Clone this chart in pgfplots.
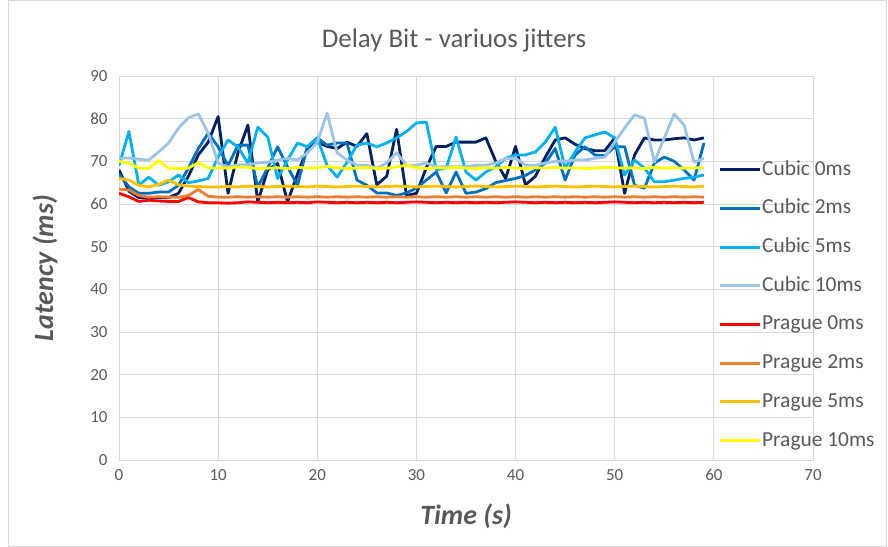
\documentclass[border=0pt]{standalone}
\usepackage{fontspec}
\setmainfont{Carlito}
\usepackage{pgfplots}
\usepackage{pgfplotstable}
\pgfplotsset{compat=1.18}
\definecolor{cA}{HTML}{002060}
\definecolor{cB}{HTML}{0070C0}
\definecolor{cC}{HTML}{00B0F0}
\definecolor{cD}{HTML}{9DC3E6}
\definecolor{pA}{HTML}{FF0000}
\definecolor{pB}{HTML}{ED7D31}
\definecolor{pC}{HTML}{FFC000}
\definecolor{pD}{HTML}{FFFF00}
\definecolor{txt}{HTML}{595959}
\definecolor{gridc}{HTML}{D9D9D9}
\pgfplotstableread{
t c0 c2 c5 c10 p0 p2 p5 p10
0 68 67 69 70.7 62.5 63.5 66.0 70.0
1 63 64 77 70.8 61.7 63.3 65.6 69.6
2 61.5 62.5 64.4 70.5 60.6 62.0 64.4 68.4
3 61.5 62.5 66.3 70.3 60.9 61.6 64.0 68.3
4 61.5 62.8 64.4 72.2 60.7 61.7 64.6 70.2
5 61.5 62.8 65.2 74.3 60.6 61.6 65.6 68.4
6 62.5 64.4 66.8 77.8 60.6 61.6 64.5 68.3
7 66.5 68.4 65.0 80.2 61.5 62.0 64.2 68.4
8 71.5 73.0 65.4 81.1 60.5 63.4 64.1 69.7
9 74.5 76.6 66.0 76.6 60.3 61.8 64.0 68.4
10 80.5 73.4 71.0 69.6 60.3 61.6 64.0 68.5
11 62.5 69.0 75.0 68.7 60.2 61.6 64.1 68.4
12 72.0 73.8 73.4 69.2 60.3 61.7 64.0 68.7
13 78.5 73.8 69.6 69.2 60.5 61.6 64.2 68.6
14 60.5 64.0 78.0 69.6 60.4 61.7 64.1 68.3
15 68.0 68.5 75.7 69.8 60.3 61.6 64.0 68.4
16 69.5 73.4 66.0 70.3 60.4 61.7 64.1 68.5
17 60.5 68.7 70.3 70.7 60.3 61.6 64.2 68.3
18 67.0 64.4 74.3 70.3 60.4 61.7 64.1 68.6
19 73.0 73.4 73.4 72.0 60.3 61.6 64.0 68.4
20 74.5 75.5 75.5 74.5 60.5 61.7 64.2 68.5
21 73.5 73.8 69.0 81.3 60.4 61.6 64.1 68.8
22 73.0 74.3 66.3 72.0 60.3 61.7 64.0 68.5
23 74.5 74.3 69.8 70.3 60.4 61.6 64.1 68.3
24 73.5 65.6 73.8 69.1 60.3 61.7 64.2 68.4
25 76.5 64.4 74.3 69.1 60.4 61.6 64.1 68.6
26 64.5 62.6 73.4 68.4 60.3 61.7 64.0 68.3
27 66.5 62.6 74.3 69.6 60.4 61.6 64.1 68.4
28 77.5 62.0 75.5 72.0 60.3 61.7 64.2 68.7
29 62.0 62.6 77.0 69.1 60.4 61.6 64.1 69.1
30 62.5 63.7 79.0 69.1 60.5 61.7 64.0 68.5
31 68.5 65.6 79.2 69.6 60.4 61.6 64.1 68.3
32 73.5 67.5 68.0 68.7 60.3 61.7 64.2 68.5
33 73.5 62.6 68.4 68.7 60.4 61.6 64.1 68.4
34 74.5 67.5 75.7 68.7 60.3 61.7 64.0 68.6
35 74.5 62.5 67.5 68.7 60.4 61.6 64.1 68.4
36 74.5 62.8 65.6 69.1 60.3 61.7 64.2 68.3
37 75.5 63.6 67.5 69.1 60.4 61.6 64.1 68.5
38 70.0 65.0 68.7 69.6 60.3 61.7 64.0 68.4
39 66.0 65.5 70.7 70.7 60.4 61.6 64.1 68.6
40 73.5 66.0 71.5 70.7 60.5 61.7 64.2 68.4
41 64.5 66.7 71.5 69.1 60.4 61.6 64.1 68.3
42 66.5 68.0 72.2 69.1 60.3 61.7 64.0 68.5
43 71.0 69.6 74.5 69.6 60.4 61.6 64.1 68.4
44 75.0 73.0 78.0 70.0 60.3 61.7 64.2 68.6
45 75.5 65.6 68.4 70.0 60.4 61.6 64.1 68.4
46 74.0 71.5 72.2 70.3 60.3 61.7 64.0 68.5
47 73.0 73.4 75.5 70.3 60.4 61.6 64.1 68.3
48 72.5 71.5 76.2 70.7 60.3 61.7 64.2 68.4
49 72.5 71.3 76.9 71.0 60.4 61.6 64.1 68.6
50 75.5 73.4 75.5 74.5 60.5 61.7 64.0 68.5
51 62.5 73.4 66.8 77.8 60.4 61.6 64.1 68.4
52 71.5 64.4 70.3 80.9 60.3 61.7 64.2 68.5
53 75.5 63.7 68.4 80.1 60.4 61.6 64.1 68.3
54 75.0 69.6 65.2 69.8 60.3 61.7 64.0 68.6
55 75.0 71.0 65.2 75.5 60.4 61.6 64.1 68.4
56 75.3 70.0 65.6 81.1 60.3 61.7 64.2 68.5
57 75.5 68.0 66.0 78.5 60.4 61.6 64.1 68.4
58 75.0 65.6 66.3 69.8 60.3 61.7 64.0 68.5
59 75.5 74.3 66.8 70.7 60.4 61.6 64.2 68.5
}\data
\begin{document}
\begin{tikzpicture}
\useasboundingbox (0bp,0bp) rectangle (888bp,547bp);
\draw[gridc, line width=0.8bp] (8.5bp,0.5bp) rectangle (886.5bp,546.5bp);
\node[text=txt, font=\fontsize{27}{32}\selectfont] at (454bp,507bp) {Delay Bit - variuos jitters};
\begin{axis}[
  at={(119bp,87bp)}, anchor=south west,
  scale only axis, width=694bp, height=384bp,
  xmin=0, xmax=70, ymin=0, ymax=90,
  xtick={0,10,...,70}, ytick={0,10,...,90},
  grid=major,
  major grid style={gridc, line width=0.8bp},
  axis line style={gridc, line width=0.8bp},
  major tick length=0pt,
  tick label style={text=txt, font=\fontsize{17}{20}\selectfont},
  xticklabel style={yshift=-6bp},
  yticklabel style={xshift=-8bp},
  /pgf/number format/assume math mode=true,
  xlabel={Time (s)}, ylabel={Latency (ms)},
  label style={text=txt, font=\fontsize{28}{33}\selectfont\bfseries\itshape},
  xlabel style={at={(axis description cs:0.5,-0.1458)}, anchor=center},
  ylabel style={at={(axis description cs:-0.1066,0.5)}, anchor=center},
  legend style={at={(axis description cs:0.8630,0.7839)}, anchor=north west,
    draw=none, fill=none, inner sep=0pt, row sep=17.7bp,
    font=\fontsize{21.5}{24}\selectfont, text=txt,
    nodes={inner sep=0pt, text height=16bp, text depth=5bp},
    /tikz/every odd column/.style={column sep=1bp}},
  legend cell align=left,
  legend image code/.code={\draw[#1, line width=3bp] (0bp,0bp) -- (40bp,0bp);},
  every axis plot/.append style={line width=2.8bp, line join=round, mark=none},
]
\addplot[cA] table[x=t,y=c0] {\data};
\addlegendentry{Cubic 0ms}
\addplot[cB] table[x=t,y=c2] {\data};
\addlegendentry{Cubic 2ms}
\addplot[cC] table[x=t,y=c5] {\data};
\addlegendentry{Cubic 5ms}
\addplot[cD] table[x=t,y=c10] {\data};
\addlegendentry{Cubic 10ms}
\addplot[pA] table[x=t,y=p0] {\data};
\addlegendentry{Prague 0ms}
\addplot[pB] table[x=t,y=p2] {\data};
\addlegendentry{Prague 2ms}
\addplot[pC] table[x=t,y=p5] {\data};
\addlegendentry{Prague 5ms}
\addplot[pD] table[x=t,y=p10] {\data};
\addlegendentry{Prague 10ms}
\end{axis}
\end{tikzpicture}
\end{document}
